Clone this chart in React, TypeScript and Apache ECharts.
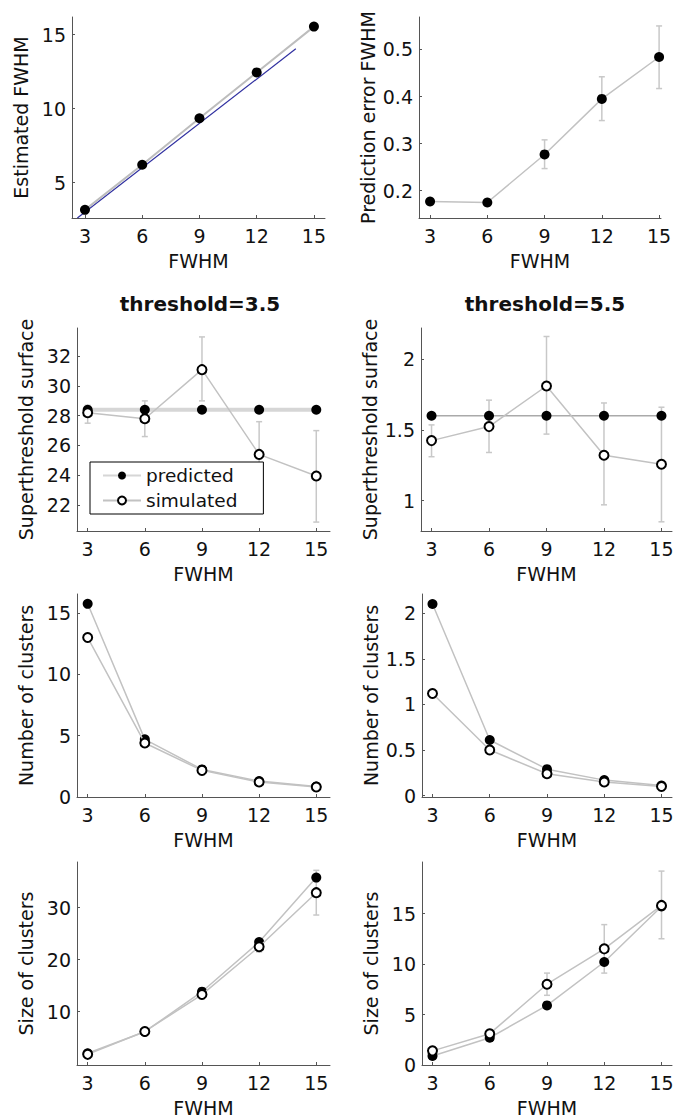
import React, { useEffect, useRef } from "react";
import * as echarts from "echarts";

// ---------- data ----------
const fwhm = [3, 6, 9, 12, 15];
const xTicks = [3, 6, 9, 12, 15];

// Panel 1: estimated FWHM
const estimatedFwhm = [3.15, 6.2, 9.35, 12.45, 15.55];
const identityRange = [2.6, 14.05];
const estTicks = [5, 10, 15];

// Panel 2: prediction error FWHM
const predError = [0.177, 0.175, 0.277, 0.395, 0.484];
const predErrorLo = [0.17, 0.167, 0.247, 0.349, 0.417];
const predErrorHi = [0.184, 0.183, 0.308, 0.442, 0.55];
const predErrTicks = [0.2, 0.3, 0.4, 0.5];

// Panel 3: superthreshold surface, threshold 3.5
const surf35Pred = [28.4, 28.4, 28.4, 28.4, 28.4];
const surf35Sim = [28.2, 27.8, 31.1, 25.4, 23.95];
const surf35SimLo = [27.5, 26.6, 29.0, 23.2, 20.85];
const surf35SimHi = [28.7, 29.0, 33.3, 27.6, 27.0];
const surf35Ticks = [22, 24, 26, 28, 30, 32];

// Panel 4: superthreshold surface, threshold 5.5
const surf55Pred = [1.6, 1.6, 1.6, 1.6, 1.6];
const surf55Sim = [1.424, 1.523, 1.81, 1.32, 1.257];
const surf55SimLo = [1.31, 1.34, 1.47, 0.97, 0.85];
const surf55SimHi = [1.535, 1.71, 2.16, 1.69, 1.66];
const surf55Ticks = [1, 1.5, 2];

// Panel 5: number of clusters, threshold 3.5
const nc35Pred = [15.75, 4.7, 2.25, 1.3, 0.85];
const nc35Sim = [13.0, 4.4, 2.17, 1.22, 0.81];
const nc35Ticks = [0, 5, 10, 15];

// Panel 6: number of clusters, threshold 5.5
const nc55Pred = [2.1, 0.61, 0.29, 0.17, 0.11];
const nc55Sim = [1.12, 0.5, 0.24, 0.15, 0.1];
const nc55Ticks = [0, 0.5, 1, 1.5, 2];

// Panel 7: size of clusters, threshold 3.5
const sc35Pred = [2.0, 6.15, 13.85, 23.4, 35.8];
const sc35Sim = [1.8, 6.2, 13.3, 22.5, 32.9];
const sc35SimLo = [1.4, 5.8, 12.8, 21.5, 28.6];
const sc35SimHi = [2.2, 6.6, 13.8, 23.5, 37.2];
const sc35Ticks = [10, 20, 30];

// Panel 8: size of clusters, threshold 5.5
const sc55Pred = [0.9, 2.7, 5.9, 10.2, 15.7];
const sc55Sim = [1.4, 3.1, 8.0, 11.5, 15.8];
const sc55SimLo = [1.0, 2.7, 6.9, 9.1, 12.5];
const sc55SimHi = [1.8, 3.5, 9.1, 13.9, 19.2];
const sc55Ticks = [0, 5, 10, 15];

const titles = ["threshold=3.5", "threshold=5.5"];
const xName = "FWHM";
const yNames = [
  "Estimated FWHM",
  "Prediction error FWHM",
  "Superthreshold surface",
  "Superthreshold surface",
  "Number of clusters",
  "Number of clusters",
  "Size of clusters",
  "Size of clusters",
];
const legendNames = ["predicted", "simulated"];

// ---------- layout ----------
const FONT = "DejaVu Sans";
const grids = [
  { left: 72, top: 17, width: 253, height: 201 },
  { left: 419, top: 17, width: 242, height: 201 },
  { left: 77, top: 328, width: 253, height: 203 },
  { left: 421, top: 328, width: 251, height: 203 },
  { left: 77, top: 594, width: 253, height: 203 },
  { left: 422, top: 594, width: 250, height: 203 },
  { left: 77, top: 862, width: 253, height: 203 },
  { left: 422, top: 862, width: 250, height: 203 },
];
const xRanges = [
  [2.32, 15.58],
  [2.42, 15.1],
  [2.44, 15.72],
  [2.45, 15.55],
  [2.44, 15.72],
  [2.45, 15.55],
  [2.44, 15.72],
  [2.45, 15.55],
];
const yRanges = [
  [2.6, 16.2],
  [0.142, 0.569],
  [20.25, 33.9],
  [0.785, 2.22],
  [0, 16.55],
  [-0.015, 2.21],
  [-0.25, 38.8],
  [0, 20.1],
];
const yTickSets = [estTicks, predErrTicks, surf35Ticks, surf55Ticks, nc35Ticks, nc55Ticks, sc35Ticks, sc55Ticks];

const AXIS_COLOR = "#555";
const LINE_GRAY = "#c2c2c2";
const ERR_GRAY = "#c8c8c8";

const pairs = (xs: number[], ys: number[]) => xs.map((x, i) => [x, ys[i]]);

function errorBars(name: string, idx: number, xs: number[], lo: number[], hi: number[]) {
  return {
    type: "custom",
    name,
    xAxisIndex: idx,
    yAxisIndex: idx,
    silent: true,
    z: 1,
    data: xs.map((x, i) => [x, lo[i], hi[i]]),
    encode: { x: 0, y: [1, 2] },
    renderItem: (_params: any, api: any) => {
      const x = api.value(0);
      const a = api.coord([x, api.value(1)]);
      const b = api.coord([x, api.value(2)]);
      const cw = 3;
      const style = { stroke: ERR_GRAY, lineWidth: 1.5 };
      return {
        type: "group",
        children: [
          { type: "line", shape: { x1: a[0], y1: a[1], x2: b[0], y2: b[1] }, style },
          { type: "line", shape: { x1: a[0] - cw, y1: a[1], x2: a[0] + cw, y2: a[1] }, style },
          { type: "line", shape: { x1: b[0] - cw, y1: b[1], x2: b[0] + cw, y2: b[1] }, style },
        ],
      };
    },
  };
}

function filledLine(name: string, idx: number, ys: number[], lineColor = LINE_GRAY, lineWidth = 1.5) {
  return {
    type: "line",
    name,
    xAxisIndex: idx,
    yAxisIndex: idx,
    data: pairs(fwhm, ys),
    symbol: "circle",
    symbolSize: 10,
    itemStyle: { color: "#000", borderColor: "#000", borderWidth: 0 },
    lineStyle: { color: lineColor, width: lineWidth },
    z: 3,
  };
}

function openLine(name: string, idx: number, ys: number[]) {
  return {
    type: "line",
    name,
    xAxisIndex: idx,
    yAxisIndex: idx,
    data: pairs(fwhm, ys),
    symbol: "circle",
    symbolSize: 9,
    itemStyle: { color: "#fff", borderColor: "#000", borderWidth: 2 },
    lineStyle: { color: LINE_GRAY, width: 1.5 },
    z: 4,
  };
}

export default function App() {
  const ref = useRef<HTMLDivElement>(null);

  useEffect(() => {
    if (!ref.current) return;
    const chart = echarts.init(ref.current, undefined, { renderer: "svg" });

    const xAxis = grids.map((_, i) => ({
      type: "value",
      gridIndex: i,
      min: xRanges[i][0],
      max: xRanges[i][1],
      name: xName,
      nameLocation: "middle",
      nameGap: 33,
      nameTextStyle: { fontFamily: FONT, fontSize: 19, color: "#111" },
      axisLine: { show: true, onZero: false, lineStyle: { color: AXIS_COLOR, width: 1 } },
      axisTick: { show: true, inside: true, length: 3, customValues: xTicks, lineStyle: { color: AXIS_COLOR } },
      axisLabel: { customValues: xTicks, margin: 8, fontFamily: FONT, fontSize: 19, color: "#111" },
      splitLine: { show: false },
    }));

    const yAxis = grids.map((_, i) => ({
      type: "value",
      gridIndex: i,
      min: yRanges[i][0],
      max: yRanges[i][1],
      name: yNames[i],
      nameLocation: "middle",
      nameGap: 42,
      nameRotate: 90,
      nameTextStyle: { fontFamily: FONT, fontSize: 19, color: "#111" },
      axisLine: { show: true, onZero: false, lineStyle: { color: AXIS_COLOR, width: 1 } },
      axisTick: { show: true, inside: true, length: 3, customValues: yTickSets[i], lineStyle: { color: AXIS_COLOR } },
      axisLabel: { customValues: yTickSets[i], margin: 6, fontFamily: FONT, fontSize: 19, color: "#111" },
      splitLine: { show: false },
    }));

    const series: any[] = [
      // panel 1
      {
        type: "line",
        name: "identity",
        xAxisIndex: 0,
        yAxisIndex: 0,
        data: identityRange.map((v) => [v, v]),
        symbol: "none",
        lineStyle: { color: "#3030a0", width: 1.2 },
        z: 2,
      },
      filledLine("estimated", 0, estimatedFwhm, "#bdbdbd", 2),
      // panel 2
      errorBars("prediction error range", 1, fwhm, predErrorLo, predErrorHi),
      filledLine("prediction error", 1, predError),
      // panel 3
      errorBars("simulated range (3.5)", 2, fwhm, surf35SimLo, surf35SimHi),
      filledLine(legendNames[0], 2, surf35Pred, "#d6d6d6", 4),
      openLine(legendNames[1], 2, surf35Sim),
      // panel 4
      errorBars("simulated range (5.5)", 3, fwhm, surf55SimLo, surf55SimHi),
      filledLine("predicted surface 5.5", 3, surf55Pred, "#aaaaaa", 1.5),
      openLine("simulated surface 5.5", 3, surf55Sim),
      // panel 5
      filledLine("predicted clusters 3.5", 4, nc35Pred),
      openLine("simulated clusters 3.5", 4, nc35Sim),
      // panel 6
      filledLine("predicted clusters 5.5", 5, nc55Pred),
      openLine("simulated clusters 5.5", 5, nc55Sim),
      // panel 7
      errorBars("simulated size range 3.5", 6, fwhm, sc35SimLo, sc35SimHi),
      filledLine("predicted size 3.5", 6, sc35Pred),
      openLine("simulated size 3.5", 6, sc35Sim),
      // panel 8
      errorBars("simulated size range 5.5", 7, fwhm, sc55SimLo, sc55SimHi),
      filledLine("predicted size 5.5", 7, sc55Pred),
      openLine("simulated size 5.5", 7, sc55Sim),
    ];

    chart.setOption({
      animation: false,
      backgroundColor: "#fff",
      grid: grids.map((g) => ({ ...g, containLabel: false, outerBoundsMode: "none" })),
      xAxis,
      yAxis,
      legend: {
        data: legendNames,
        left: 90,
        top: 462,
        orient: "vertical",
        backgroundColor: "#fff",
        borderColor: "#000",
        borderWidth: 1,
        borderRadius: 0,
        padding: [4, 26, 4, 12],
        itemWidth: 38,
        itemHeight: 10,
        itemGap: 6,
        selectedMode: false,
        textStyle: { fontFamily: FONT, fontSize: 18.5, color: "#111" },
      },
      graphic: [
        {
          type: "text",
          x: 200,
          y: 304,
          style: {
            text: titles[0],
            fontFamily: FONT,
            fontSize: 20,
            fontWeight: "bold",
            fill: "#111",
            align: "center",
            verticalAlign: "middle",
          },
        },
        {
          type: "text",
          x: 545,
          y: 304,
          style: {
            text: titles[1],
            fontFamily: FONT,
            fontSize: 20,
            fontWeight: "bold",
            fill: "#111",
            align: "center",
            verticalAlign: "middle",
          },
        },
      ],
      series,
    });

    return () => chart.dispose();
  }, []);

  return (
    <div
      ref={ref}
      style={{ position: "absolute", left: 0, top: 0, width: 676, height: 1120, background: "#fff" }}
    />
  );
}
